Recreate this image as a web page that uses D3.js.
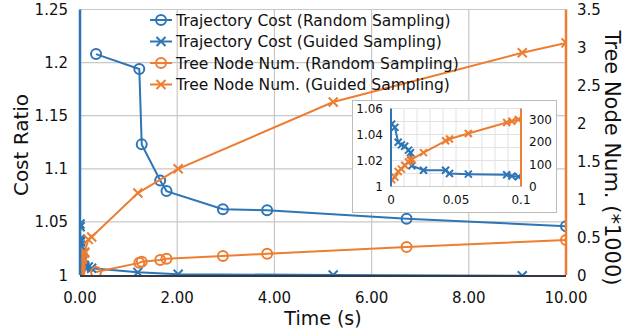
<!DOCTYPE html>
<html>
<head>
<meta charset="utf-8">
<script src="https://cdn.jsdelivr.net/npm/d3@7"></script>
<style>
	body { margin: 0; background: #fff; }
	svg { display: block; font-family: "DejaVu Sans", sans-serif; }
</style>
</head>
<body>
<script>
// random sampling: time (s), cost ratio, tree nodes (*1000)
let randTime = [0.33, 1.22, 1.27, 1.65, 1.78, 2.94, 3.85, 6.72, 10]
let randCost = [1.208, 1.194, 1.123, 1.089, 1.079, 1.062, 1.061, 1.053, 1.046]
let randNodes = [0.04, 0.16, 0.175, 0.198, 0.215, 0.25, 0.28, 0.37, 0.46]

// guided sampling
let guidTime = [0.0005, 0.003, 0.0055, 0.008, 0.0105, 0.0135, 0.015, 0.016, 0.025, 0.042, 0.045, 0.0595, 0.089, 0.093, 0.098, 0.17, 0.24, 1.19, 2.02, 5.21, 9.1, 10]
let guidCost = [1.048, 1.0455, 1.034, 1.032, 1.031, 1.028, 1.026, 1.016, 1.0125, 1.0125, 1.010, 1.0095, 1.009, 1.008, 1.0075, 1.0075, 1.0063, 1.0025, 1.0007, 1.0, 0.9993, 0.99]
let guidNodes = [0.03, 0.042, 0.067, 0.078, 0.095, 0.11, 0.118, 0.122, 0.152, 0.205, 0.213, 0.238, 0.287, 0.293, 0.301, 0.47, 0.5, 1.08, 1.4, 2.28, 2.93, 3.06]

let xTicks = [0, 2, 4, 6, 8, 10]
let yLTicks = [1, 1.05, 1.1, 1.15, 1.2, 1.25]
let yRTicks = [0, 0.5, 1, 1.5, 2, 2.5, 3, 3.5]
let legendLabels = ['Trajectory Cost (Random Sampling)', 'Trajectory Cost (Guided Sampling)', 'Tree Node Num. (Random Sampling)', 'Tree Node Num. (Guided Sampling)']

// inset (first 0.1 s)
let inXTicks = [0, 0.05, 0.1]
let inYLTicks = [1, 1.02, 1.04, 1.06]
let inYRTicks = [0, 100, 200, 300]

let blue = '#2e75b6', orange = '#ed7d31', grid = '#c8c8c8'

let svg = d3.select('body').append('svg')
	.attr('width', 644)
	.attr('height', 332)

let x = d3.scaleLinear().domain([0, 10]).range([80, 566])
let yL = d3.scaleLinear().domain([1, 1.25]).range([275, 9.5])
let yR = d3.scaleLinear().domain([0, 3.5]).range([275, 9.5])

svg.append('clipPath').attr('id', 'clipMain')
	.append('rect').attr('x', 80).attr('y', 9.5).attr('width', 486).attr('height', 265.5)

// grid
let g = svg.append('g')
g.selectAll('.vg').data(xTicks.slice(1, -1)).join('line')
	.attr('x1', d => x(d)).attr('x2', d => x(d)).attr('y1', 9.5).attr('y2', 275)
	.attr('stroke', grid).attr('stroke-width', 1.2)
g.selectAll('.hg').data(yLTicks.slice(1)).join('line')
	.attr('x1', 80).attr('x2', 566).attr('y1', d => yL(d)).attr('y2', d => yL(d))
	.attr('stroke', grid).attr('stroke-width', 1.2)

function series(parent, xs, ys, sx, sy, color, marker, size, clip) {
	let pts = xs.map((t, i) => [sx(t), sy(ys[i])])
	let s = parent.append('g')
	if (clip) s.attr('clip-path', 'url(#' + clip + ')')
	s.append('path')
		.attr('d', d3.line()(pts))
		.attr('fill', 'none').attr('stroke', color).attr('stroke-width', 2)
	if (marker === 'o') {
		s.selectAll('circle').data(pts).join('circle')
			.attr('cx', d => d[0]).attr('cy', d => d[1]).attr('r', size)
			.attr('fill', 'none').attr('stroke', color).attr('stroke-width', 2)
	} else {
		s.selectAll('path.m').data(pts).join('path').attr('class', 'm')
			.attr('d', d => `M${d[0] - size},${d[1] - size}L${d[0] + size},${d[1] + size}M${d[0] - size},${d[1] + size}L${d[0] + size},${d[1] - size}`)
			.attr('stroke', color).attr('stroke-width', 2)
	}
	return s
}

series(svg, randTime, randCost, x, yL, blue, 'o', 5, 'clipMain')
series(svg, guidTime, guidCost, x, yL, blue, 'x', 4.5, 'clipMain')
series(svg, randTime, randNodes, x, yR, orange, 'o', 5, 'clipMain')
series(svg, guidTime, guidNodes, x, yR, orange, 'x', 4.5, 'clipMain')

// spines
svg.append('line').attr('x1', 80).attr('x2', 566).attr('y1', 9.5).attr('y2', 9.5).attr('stroke', grid).attr('stroke-width', 1.2)
svg.append('line').attr('x1', 80).attr('x2', 566).attr('y1', 276).attr('y2', 276).attr('stroke', '#333a44').attr('stroke-width', 2)
svg.append('line').attr('x1', 80).attr('x2', 80).attr('y1', 9.5).attr('y2', 275).attr('stroke', blue).attr('stroke-width', 2.5)
svg.append('line').attr('x1', 566).attr('x2', 566).attr('y1', 9.5).attr('y2', 275).attr('stroke', orange).attr('stroke-width', 2.5)

// tick labels
svg.selectAll('.xt').data(xTicks).join('text')
	.attr('x', d => x(d)).attr('y', 303).attr('text-anchor', 'middle')
	.attr('font-size', 15).attr('fill', '#111').text(d => d.toFixed(2))
svg.selectAll('.ylt').data(yLTicks).join('text')
	.attr('x', 68).attr('y', d => yL(d) + 5.5).attr('text-anchor', 'end')
	.attr('font-size', 15).attr('fill', '#111').text(d => d3.format('~g')(d))
svg.selectAll('.yrt').data(yRTicks).join('text')
	.attr('x', 577).attr('y', d => yR(d) + 5.5).attr('text-anchor', 'start')
	.attr('font-size', 15).attr('fill', '#111').text(d => d3.format('~g')(d))

// axis titles
svg.append('text').attr('x', 323).attr('y', 325).attr('text-anchor', 'middle')
	.attr('font-size', 19).attr('fill', '#111').text('Time (s)')
svg.append('text').attr('transform', 'translate(28,145) rotate(-90)').attr('text-anchor', 'middle')
	.attr('font-size', 20).attr('fill', '#111').text('Cost Ratio')
svg.append('text').attr('transform', 'translate(605,158) rotate(90)').attr('text-anchor', 'middle')
	.attr('font-size', 21).attr('fill', '#111').text('Tree Node Num. (*1000)')

// legend
let leg = svg.append('g')
let legStyle = [[blue, 'o'], [blue, 'x'], [orange, 'o'], [orange, 'x']]
legendLabels.forEach((t, i) => {
	let cy = 20 + i * 21.5
	let [c, m] = legStyle[i]
	leg.append('line').attr('x1', 150).attr('x2', 172).attr('y1', cy).attr('y2', cy).attr('stroke', c).attr('stroke-width', 2)
	if (m === 'o') {
		leg.append('circle').attr('cx', 161).attr('cy', cy).attr('r', 5).attr('fill', 'none').attr('stroke', c).attr('stroke-width', 2)
	} else {
		leg.append('path').attr('d', `M156.5,${cy - 4.5}L165.5,${cy + 4.5}M156.5,${cy + 4.5}L165.5,${cy - 4.5}`).attr('stroke', c).attr('stroke-width', 2)
	}
	leg.append('text').attr('x', 176).attr('y', cy + 5.5).attr('font-size', 15.5).attr('fill', '#111').text(t)
})

// inset
let ins = svg.append('g')
ins.append('rect').attr('x', 352.5).attr('y', 100.5).attr('width', 204).attr('height', 112)
	.attr('fill', '#fff').attr('stroke', '#bbb').attr('stroke-width', 1)

let ix = d3.scaleLinear().domain([0, 0.1]).range([391, 521])
let iyL = d3.scaleLinear().domain([1, 1.06]).range([186.5, 108.5])
let iyR = d3.scaleLinear().domain([0, 350]).range([186.5, 108.5])

svg.append('clipPath').attr('id', 'clipIn')
	.append('rect').attr('x', 391).attr('y', 108.5).attr('width', 130).attr('height', 78)

ins.selectAll('.ivg').data(d3.range(1, 10).map(d => d / 100)).join('line')
	.attr('x1', d => ix(d)).attr('x2', d => ix(d)).attr('y1', 108.5).attr('y2', 186.5)
	.attr('stroke', '#e2e2e2').attr('stroke-width', 1)
ins.selectAll('.ihg').data(d3.range(1, 7).map(d => 1 + d / 100)).join('line')
	.attr('x1', 391).attr('x2', 521).attr('y1', d => iyL(d)).attr('y2', d => iyL(d))
	.attr('stroke', '#e2e2e2').attr('stroke-width', 1)

series(ins, guidTime, guidCost, ix, iyL, blue, 'x', 3.5, 'clipIn')
series(ins, guidTime, guidNodes.map(d => d * 1000), ix, iyR, orange, 'x', 3.5, 'clipIn')

ins.append('line').attr('x1', 391).attr('x2', 521).attr('y1', 186.5).attr('y2', 186.5).attr('stroke', '#ccc').attr('stroke-width', 1)
ins.append('line').attr('x1', 391).attr('x2', 391).attr('y1', 108.5).attr('y2', 186.5).attr('stroke', blue).attr('stroke-width', 2)
ins.append('line').attr('x1', 521).attr('x2', 521).attr('y1', 108.5).attr('y2', 186.5).attr('stroke', orange).attr('stroke-width', 2)

ins.selectAll('.ixt').data(inXTicks).join('text')
	.attr('x', d => ix(d)).attr('y', 204).attr('text-anchor', 'middle')
	.attr('font-size', 12).attr('fill', '#111').text(d => d3.format('~g')(d))
ins.selectAll('.iylt').data(inYLTicks).join('text')
	.attr('x', 383).attr('y', d => iyL(d) + 4.5).attr('text-anchor', 'end')
	.attr('font-size', 12).attr('fill', '#111').text(d => d3.format('~g')(d))
ins.selectAll('.iyrt').data(inYRTicks).join('text')
	.attr('x', 529).attr('y', d => iyR(d) + 4.5).attr('text-anchor', 'start')
	.attr('font-size', 12).attr('fill', '#111').text(d => d)
</script>
</body>
</html>
